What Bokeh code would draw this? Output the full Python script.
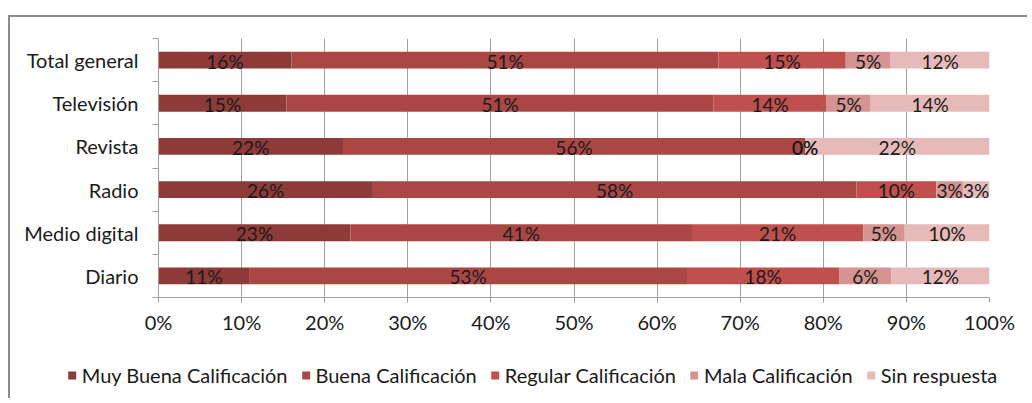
from bokeh.plotting import figure
from bokeh.models import ColumnDataSource, FixedTicker, Legend, LegendItem, LabelSet, NumeralTickFormatter, Div
from bokeh.embed import file_html
from bokeh.resources import INLINE
from bokeh.core.properties import value

# ---- data ----
categories = ["Diario", "Medio digital", "Radio", "Revista", "Televisión", "Total general"]
series = ["Muy Buena Calificación", "Buena Calificación", "Regular Calificación",
          "Mala Calificación", "Sin respuesta"]
muy_buena = [10.9, 23.1, 25.8, 22.2, 15.4, 16.0]
buena = [52.7, 41.1, 58.2, 55.6, 51.4, 51.4]
regular = [18.3, 20.6, 9.6, 0.0, 13.6, 15.3]
mala = [6.3, 5.0, 3.2, 0.0, 5.3, 5.4]
sin_resp = [11.8, 10.2, 3.2, 22.2, 14.3, 11.9]
x_ticks = [0, 10, 20, 30, 40, 50, 60, 70, 80, 90, 100]
colors = ["#8E3A38", "#AA4745", "#C0504D", "#D59391", "#E6BAB9"]

values = [muy_buena, buena, regular, mala, sin_resp]
FONT = "Lato"
W = 1016

p = figure(width=W, height=352, x_range=(0, 100), y_range=(-0.5, len(categories) - 0.5),
           output_backend="svg", toolbar_location=None,
           min_border_left=158, min_border_right=W - 989, min_border_top=38, min_border_bottom=55)
p.outline_line_color = None
p.background_fill_color = "white"

ypos = list(range(len(categories)))
left = [0.0] * len(categories)
sources = []
for name, vals, col in zip(series, values, colors):
    right = [l + v for l, v in zip(left, vals)]
    center = [(l + r) / 2 for l, r in zip(left, right)]
    src = ColumnDataSource(dict(y=ypos, left=left, right=right, xc=center,
                                lab=[f"{round(v):d}%" for v in vals]))
    sources.append(src)
    p.hbar(y="y", left="left", right="right", height=0.39, source=src,
           fill_color=col, line_color=None)
    lbl = LabelSet(x="xc", y="y", text="lab", source=src, text_align="center",
                   text_baseline="middle", text_font=value(FONT), text_font_size="19px",
                   text_color="#1a1a1a", y_offset=-1)
    p.add_layout(lbl)
    left = right

# x axis
p.xaxis.ticker = FixedTicker(ticks=x_ticks)
p.xaxis.formatter = NumeralTickFormatter(format="0")
p.xaxis.major_label_overrides = {t: f"{t}%" for t in x_ticks}
p.xaxis.axis_line_color = "#a0a0a0"
p.xaxis.major_tick_line_color = "#a0a0a0"
p.xaxis.major_tick_in = 0
p.xaxis.major_tick_out = 5
p.xaxis.minor_tick_line_color = None
p.xaxis.major_label_text_font = FONT
p.xaxis.major_label_text_font_size = "20px"
p.xaxis.major_label_text_color = "#1a1a1a"
p.xaxis.major_label_standoff = 7

# y axis (labels at centers, ticks at boundaries)
p.yaxis.ticker = FixedTicker(ticks=ypos, minor_ticks=[i - 0.5 for i in range(len(categories) + 1)])
p.yaxis.major_label_overrides = {i: c for i, c in enumerate(categories)}
p.yaxis.axis_line_color = "#a0a0a0"
p.yaxis.major_tick_line_color = None
p.yaxis.minor_tick_line_color = "#a0a0a0"
p.yaxis.minor_tick_in = 0
p.yaxis.minor_tick_out = 6
p.yaxis.major_label_text_font = FONT
p.yaxis.major_label_text_font_size = "20px"
p.yaxis.major_label_text_color = "#1a1a1a"
p.yaxis.major_label_standoff = 14

p.xgrid.grid_line_color = "#a0a0a0"
p.ygrid.grid_line_color = None

# legend strip below the chart (separate root, its own full-width frame)
pl = figure(width=W, height=46, x_range=(0, 100), y_range=(1000, 1001), output_backend="svg",
            toolbar_location=None, min_border=0, min_border_left=48)
pl.axis.visible = False
pl.grid.visible = False
pl.outline_line_color = None
items = []
for name, col, src in zip(series, colors, sources):
    r = pl.hbar(y="y", left="left", right="right", height=0.39, source=src,
                fill_color=col, line_color=None)
    items.append(LegendItem(label=name, renderers=[r]))
legend = Legend(items=items, orientation="horizontal", location="center",
                label_text_font=FONT, label_text_font_size="20px", label_text_color="#1a1a1a",
                glyph_width=10, glyph_height=10, label_standoff=5, spacing=13,
                border_line_color=None, background_fill_alpha=0, padding=0, margin=0)
pl.add_layout(legend, "center")

# outer chart-area frame (top and left edges visible in the reference)
frame = Div(text="", width=1, height=1,
            styles={"position": "absolute", "left": "3px", "top": "10px", "right": "0px",
                    "bottom": "0px", "width": "auto", "height": "auto",
                    "border-left": "2px solid #8c8c8c", "border-top": "2px solid #8c8c8c",
                    "pointer-events": "none"})

open("out.html", "w").write(file_html([p, pl, frame], INLINE))
